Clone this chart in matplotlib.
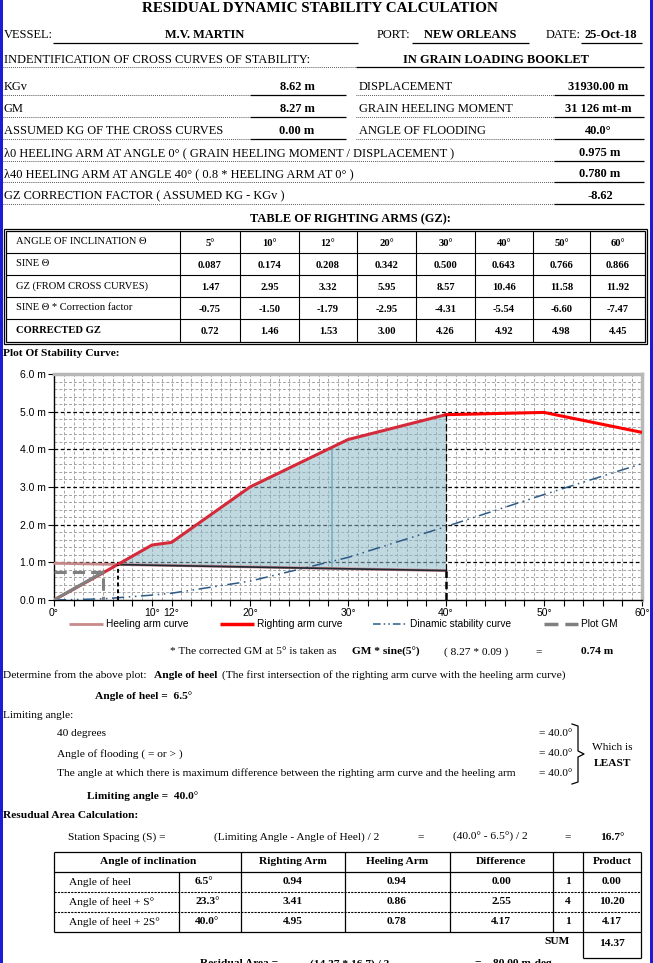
import numpy as np
import matplotlib.pyplot as plt

# ---- data ----
vessel = 'M.V. MARTIN'
port = 'NEW ORLEANS'
date = '25-Oct-18'
kgv = 8.62
gm = 8.27
assumed_kg = 0.00
displacement = 31930.00
heel_moment = '31 126'
flood_angle = 40.0
heel_arm_0 = 0.975
heel_arm_40 = 0.780
corr_factor = -8.62

angles = [5, 10, 12, 20, 30, 40, 50, 60]
sine = [0.087, 0.174, 0.208, 0.342, 0.500, 0.643, 0.766, 0.866]
gz_cross = [1.47, 2.95, 3.32, 5.95, 8.57, 10.46, 11.58, 11.92]
sine_corr = [-0.75, -1.50, -1.79, -2.95, -4.31, -5.54, -6.60, -7.47]
gz_corrected = [0.72, 1.46, 1.53, 3.00, 4.26, 4.92, 4.98, 4.45]

# dynamic stability curve (m-rad)
dyn_angles = [0, 5, 10, 12, 20, 30, 40, 50, 60]
dyn_values = [0.0, 0.03, 0.13, 0.18, 0.50, 1.13, 1.95, 2.80, 3.62]

gm_at_5 = 0.74
heel_angle = 6.5
limit_angle = 40.0
spacing = 16.7

res_labels = ['Angle of heel', 'Angle of heel + S°', 'Angle of heel + 2S°']
res_angles = [6.5, 23.3, 40.0]
res_righting = [0.94, 3.41, 4.95]
res_heeling = [0.94, 0.86, 0.78]
res_diff = [0.00, 2.55, 4.17]
res_mult = [1, 4, 1]
res_product = [0.00, 10.20, 4.17]
res_sum = 14.37
res_area = 80.00

# ---- page ----
W, H = 653, 963
fig = plt.figure(figsize=(W / 100, H / 100), dpi=100)
bg = fig.add_axes([0, 0, 1, 1])
bg.set_xlim(0, W)
bg.set_ylim(H, 0)
bg.axis('off')

SERIF = 'Liberation Serif'
SANS = 'Liberation Sans'
M = 8.9   # header rows
T = 7.6   # gz table
S = 8.2   # lower notes


def txt(x, y, s, size=M, bold=False, ha='left', family=SERIF, **kw):
    bg.text(x, y, s, fontsize=size, fontweight='bold' if bold else 'normal',
            ha=ha, va='center', family=family, **kw)


def hline(x0, x1, y, ls='-', lw=0.9, color='black'):
    bg.plot([x0, x1], [y, y], ls=ls, lw=lw, color=color, solid_capstyle='butt')


def vline(x, y0, y1, ls='-', lw=0.9, color='black'):
    bg.plot([x, x], [y0, y1], ls=ls, lw=lw, color=color, solid_capstyle='butt')


def dotted(x0, x1, y):
    hline(x0, x1, y, ls=(0, (0.8, 1.2)), lw=0.7, color='#333333')


# blue window edges
bg.add_patch(plt.Rectangle((0, 0), 3, H, color='#1c1cd8', lw=0))
bg.add_patch(plt.Rectangle((650, 0), 3, H, color='#1c1cd8', lw=0))

# header
txt(320, 9, 'RESIDUAL DYNAMIC STABILITY CALCULATION', size=10.9, bold=True, ha='center')
txt(4, 35, 'VESSEL:')
txt(205, 35, vessel, bold=True, ha='center')
hline(53, 358, 43)
txt(377, 35, 'PORT:')
txt(470, 35, port, bold=True, ha='center')
hline(412, 529, 43)
txt(546, 35, 'DATE:')
txt(611, 35, date, bold=True, ha='center')
hline(581, 642, 43)

txt(4, 60, 'INDENTIFICATION OF CROSS CURVES OF STABILITY:')
dotted(3, 356, 67)
txt(496, 60, 'IN GRAIN LOADING BOOKLET', bold=True, ha='center')
hline(356, 644, 67)

left_rows = [('KGv', f'{kgv:.2f} m', 87),
             ('GM', f'{gm:.2f} m', 109),
             ('ASSUMED KG OF THE CROSS CURVES', f'{assumed_kg:.2f} m', 131)]
right_rows = [('DISPLACEMENT', f'{displacement:.2f} m', 87),
              ('GRAIN HEELING MOMENT', f'{heel_moment} mt-m', 109),
              ('ANGLE OF FLOODING', f'{flood_angle:.1f}°', 131)]
for lab, val, y in left_rows:
    txt(4, y, lab)
    dotted(3, 250, y + 8)
    txt(297, y, val, bold=True, ha='center')
    hline(250, 346, y + 8)
for lab, val, y in right_rows:
    txt(359, y, lab)
    dotted(356, 554, y + 8)
    txt(598, y, val, bold=True, ha='center')
    hline(554, 644, y + 8)

long_rows = [('λ0 HEELING ARM AT ANGLE 0° ( GRAIN HEELING MOMENT / DISPLACEMENT )', f'{heel_arm_0:.3f} m', 153),
             ('λ40 HEELING ARM AT ANGLE 40° ( 0.8 * HEELING ARM AT 0° )', f'{heel_arm_40:.3f} m', 174),
             ('GZ CORRECTION FACTOR ( ASSUMED KG - KGv )', f'{corr_factor:.2f}', 196)]
for lab, val, y in long_rows:
    txt(4, y, lab)
    dotted(3, 554, y + 8)
    txt(600, y, val, bold=True, ha='center')
    hline(554, 644, y + 8)

txt(350, 219, 'TABLE OF RIGHTING ARMS (GZ):', bold=True, ha='center')

# ---- table of righting arms ----
col_x = [180, 240, 299, 357, 416, 475, 533, 590, 646]
row_y = [231, 253, 275, 297, 319, 342]
bg.add_patch(plt.Rectangle((4, 229), 643, 115, fill=False, lw=0.9, ec='black'))
bg.add_patch(plt.Rectangle((6, 231), 639, 111, fill=False, lw=0.9, ec='black'))
for y in row_y[1:-1]:
    hline(6, 645, y, lw=0.8)
for x in col_x[:-1]:
    vline(x, 231, 342, lw=0.8)

table_rows = [('ANGLE OF INCLINATION Θ', [f'{a}°' for a in angles], False),
              ('SINE Θ', [f'{v:.3f}' for v in sine], False),
              ('GZ (FROM CROSS CURVES)', [f'{v:.2f}' for v in gz_cross], False),
              ('SINE Θ * Correction factor', [f'{v:.2f}' for v in sine_corr], False),
              ('CORRECTED GZ', [f'{v:.2f}' for v in gz_corrected], True)]
for i, (lab, vals, b) in enumerate(table_rows):
    yc = (row_y[i] + row_y[i + 1]) / 2
    txt(16, yc, lab, size=T, bold=b)
    for j, v in enumerate(vals):
        txt((col_x[j] + col_x[j + 1]) / 2, yc + 1, v, size=T, bold=True, ha='center')

txt(3, 354, 'Plot Of Stability Curve:', size=S, bold=True)

# ---- stability chart ----
ax = fig.add_axes([54 / W, 1 - 600 / H, 588 / W, 226 / H])
ax.set_xlim(0, 60)
ax.set_ylim(0, 6)

for v in np.arange(0.2, 6.0, 0.2):
    if abs(v - round(v)) > 0.01:
        ax.axhline(v, color='#a4a4a4', lw=0.7, ls=(0, (3, 2)), zorder=1)
for v in range(1, 60):
    ax.axvline(v, color='#a4a4a4', lw=0.7, ls=(0, (3, 2)), zorder=1)
for v in range(1, 6):
    ax.axhline(v, color='black', lw=0.9, ls=(0, (3, 2)), zorder=1.5)

# residual area between righting and heeling arms
fill_x = [heel_angle] + [a for a in angles if heel_angle < a <= limit_angle] + [limit_angle]
fill_y = [res_righting[0]] + [g for a, g in zip(angles, gz_corrected) if heel_angle < a <= limit_angle] + [res_heeling[-1]]
ax.fill(fill_x, fill_y, color='#8db8c6', alpha=0.55, lw=0, zorder=2)
ax.plot([28.4, 28.4], [0.86, 4.05], color='#7fb0bf', lw=1.2, zorder=2.2)

# heeling arm
ax.plot([0, 40], [heel_arm_0, heel_arm_40], color='#c8898a', lw=2, zorder=3)
ax.plot([heel_angle, limit_angle], [res_heeling[0], res_heeling[-1]], color='#1e2a36', lw=1.2, zorder=3.2)

# dynamic stability
ax.plot(dyn_angles, dyn_values, color='#2b5a86', lw=1.1, ls=(0, (8, 3, 1, 3, 1, 3)), zorder=3)

# righting arm
rx = [0] + angles
ry = [0] + gz_corrected
k = rx.index(40)
ax.plot(rx[:k + 1], ry[:k + 1], color='#d42a3a', lw=2.2, zorder=4)
ax.plot(rx[k:], ry[k:], color='#ff0000', lw=2.2, zorder=4)

# GM plot
ax.plot([0, 5], [0, gm_at_5], color='#808080', lw=2.2, zorder=4.5)
ax.plot([0, 5, 5], [gm_at_5, gm_at_5, 0], color='#808080', lw=2.2, ls=(0, (4, 2)), zorder=4.5)

# heel / limiting angle markers
ax.plot([heel_angle, heel_angle], [0, res_righting[0]], color='black', lw=1.4, ls=(0, (2, 1.5)), zorder=5)
ax.plot([limit_angle, limit_angle], [0, res_heeling[-1]], color='black', lw=1.8, ls=(0, (3, 1.5)), zorder=5)
ax.plot([limit_angle, limit_angle], [res_heeling[-1], gz_corrected[5]], color='black', lw=0.9, ls=(0, (6, 2)), zorder=5)

for s in ['left', 'bottom']:
    ax.spines[s].set_color('black')
    ax.spines[s].set_linewidth(1.0)
for s in ['top', 'right']:
    ax.spines[s].set_color('#b8b8b8')
    ax.spines[s].set_linewidth(2.5)

xlabels = {0: '0°', 10: '10°', 12: '12°', 20: '20°', 30: '30°', 40: '40°', 50: '50°', 60: '60°'}
ax.set_xticks(range(0, 61, 2))
ax.set_xticklabels([xlabels.get(v, '') for v in range(0, 61, 2)], family=SANS, fontsize=7.5)
ax.set_yticks(range(0, 7))
ax.set_yticklabels([f'{v:.1f} m' for v in range(0, 7)], family=SANS, fontsize=7.5)
ax.tick_params(direction='out', length=4, width=0.8, pad=2)

# legend
leg = [(69, 'Heeling arm curve', dict(color='#c8898a', lw=2)),
       (220, 'Righting arm curve', dict(color='#ff0000', lw=2.5)),
       (373, 'Dinamic stability curve', dict(color='#2b5a86', lw=1.1, ls=(0, (5, 2, 1, 2, 1, 2)))),
       (544, 'Plot GM', dict(color='#808080', lw=2.5, ls=(0, (4, 2))))]
for x, lab, st in leg:
    bg.plot([x, x + 34], [624, 624], solid_capstyle='butt', **st)
    txt(x + 37, 624, lab, size=7.3, family=SANS)

# ---- notes ----
txt(170, 652, '* The corrected GM at 5° is taken as', size=S)
txt(352, 652, 'GM * sine(5°)', size=S, bold=True)
txt(444, 652, f'( {gm:.2f} * 0.09 )', size=S)
txt(539, 652, '=', size=S, ha='center')
txt(581, 652, f'{gm_at_5:.2f} m', size=S, bold=True)

txt(3, 675, 'Determine from the above plot:', size=S)
txt(154, 675, 'Angle of heel', size=S, bold=True)
txt(222, 675, '(The first intersection of the righting arm curve with the heeling arm curve)', size=S)
txt(95, 696, f'Angle of heel =  {heel_angle:.1f}°', size=S, bold=True)

txt(3, 715, 'Limiting angle:', size=S)
lim_rows = [('40 degrees', 734), ('Angle of flooding ( = or > )', 754),
            ('The angle at which there is maximum difference between the righting arm curve and the heeling arm', 773)]
for lab, y in lim_rows:
    txt(57, y, lab, size=S)
    txt(539, y, f'= {limit_angle:.1f}°', size=S)
bg.plot([572, 578, 578, 584, 578, 578, 572], [724, 726, 751, 754, 757, 782, 784], color='black', lw=0.9)
txt(612, 747, 'Which is', size=S, ha='center')
txt(613, 763, 'LEAST', size=S, bold=True, ha='center')
txt(87, 796, f'Limiting angle =  {limit_angle:.1f}°', size=S, bold=True)

txt(3, 815, 'Resudual Area Calculation:', size=S, bold=True)
txt(68, 837, 'Station Spacing (S) =', size=S)
txt(214, 837, '(Limiting Angle - Angle of Heel) / 2', size=S)
txt(421, 837, '=', size=S, ha='center')
txt(453, 837, f'({limit_angle:.1f}° - {heel_angle:.1f}°) / 2', size=S)
txt(568, 837, '=', size=S, ha='center')
txt(612, 837, f'{spacing:.1f}°', size=S, bold=True, ha='center')

# ---- residual area table ----
tx = [54, 179, 241, 345, 450, 553, 583, 641]
ty = [852, 872, 892, 912, 932]
hline(54, 641, ty[0])
hline(54, 641, ty[1])
hline(54, 641, ty[2], ls=(0, (2, 1)), lw=0.8)
hline(54, 641, ty[3], ls=(0, (2, 1)), lw=0.8)
hline(54, 641, ty[4])
for x in tx:
    if x == 179:
        vline(x, ty[1], ty[4])
    else:
        vline(x, ty[0], ty[4])
vline(583, ty[4], 958)
vline(641, ty[4], 958)
hline(583, 641, 958)

heads = ['Angle of inclination', 'Righting Arm', 'Heeling Arm', 'Difference', '', 'Product']
head_x = [148, 293, 397, 501, 568, 612]
for hx, h in zip(head_x, heads):
    txt(hx, 862, h, size=S, bold=True, ha='center')
for i in range(3):
    yc = (ty[i + 1] + ty[i + 2]) / 2
    txt(69, yc, res_labels[i], size=S)
    txt(195, yc, f'{res_angles[i]:.1f}°', size=S, bold=True)
    txt(293, yc, f'{res_righting[i]:.2f}', size=S, bold=True, ha='center')
    txt(397, yc, f'{res_heeling[i]:.2f}', size=S, bold=True, ha='center')
    txt(501, yc, f'{res_diff[i]:.2f}', size=S, bold=True, ha='center')
    txt(568, yc, f'{res_mult[i]}', size=S, bold=True, ha='center')
    txt(612, yc, f'{res_product[i]:.2f}', size=S, bold=True, ha='center')
txt(557, 942, 'SUM', size=S, bold=True, ha='center')
txt(612, 944, f'{res_sum:.2f}', size=S, bold=True, ha='center')

# last line, cut off by the window edge as in the sheet
txt(200, 964, 'Residual Area =', size=S, bold=True)
txt(310, 964, f'({res_sum:.2f} * {spacing:.1f}) / 3', size=S, bold=True)
txt(475, 964, f'=    {res_area:.2f} m-deg', size=S, bold=True)

fig.savefig('out.png', dpi=100)
